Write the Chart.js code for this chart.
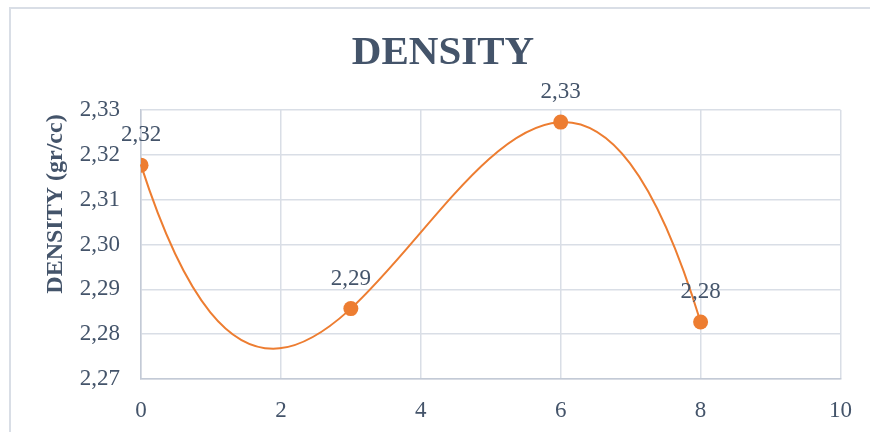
<!DOCTYPE html>
<html>
<head>
<meta charset="utf-8">
<title>Density</title>
<script src="https://cdn.jsdelivr.net/npm/chart.js@4/dist/chart.umd.min.js"></script>
<style>
  html, body { margin: 0; padding: 0; background: #ffffff; }
  #wrap { position: relative; width: 870px; height: 432px; }
</style>
</head>
<body>
<div id="wrap"><canvas id="chart" width="870" height="432"></canvas></div>
<script>
// Measured samples: curing time vs density
const timeValues = [0, 3, 6, 8];
const densityValues = [2.3177, 2.2857, 2.3273, 2.2827];
const xTicks = [0, 2, 4, 6, 8, 10];
const yTicks = [2.27, 2.28, 2.29, 2.30, 2.31, 2.32, 2.33];
const chartTitle = 'DENSITY';
const yAxisTitle = 'DENSITY (gr/cc)';

const TEXT = '#44546A';
const ORANGE = '#ED7D31';
const GRID = '#D9DEE6';
const AXIS = '#C3CAD6';
const SERIF = '"Liberation Serif", "Times New Roman", serif';

const fmt = v => Number(v).toFixed(2).replace('.', ',');

// Least-squares polynomial (order 3) trendline coefficients
function polyfit(xs, ys, order) {
  const n = order + 1;
  const A = [];
  for (let r = 0; r < n; r++) {
    const row = [];
    for (let c = 0; c < n; c++) {
      let s = 0;
      for (let i = 0; i < xs.length; i++) s += Math.pow(xs[i], r + c);
      row.push(s);
    }
    let b = 0;
    for (let i = 0; i < xs.length; i++) b += ys[i] * Math.pow(xs[i], r);
    row.push(b);
    A.push(row);
  }
  for (let i = 0; i < n; i++) {
    let p = i;
    for (let k = i + 1; k < n; k++) if (Math.abs(A[k][i]) > Math.abs(A[p][i])) p = k;
    [A[i], A[p]] = [A[p], A[i]];
    for (let k = i + 1; k < n; k++) {
      const f = A[k][i] / A[i][i];
      for (let c = i; c <= n; c++) A[k][c] -= f * A[i][c];
    }
  }
  const coef = new Array(n).fill(0);
  for (let i = n - 1; i >= 0; i--) {
    let s = A[i][n];
    for (let c = i + 1; c < n; c++) s -= A[i][c] * coef[c];
    coef[i] = s / A[i][i];
  }
  return coef;
}

const coef = polyfit(timeValues, densityValues, 3);
const poly = x => coef.reduce((s, c, i) => s + c * Math.pow(x, i), 0);
const dpoly = x => coef.reduce((s, c, i) => i ? s + i * c * Math.pow(x, i - 1) : s, 0);

// Cubic trendline drawn as one exact Bezier through the axis scales
const trendline = {
  id: 'trendline',
  beforeDatasetsDraw(chart) {
    const {ctx, scales: {x, y}} = chart;
    const x0 = Math.min(...timeValues), x3 = Math.max(...timeValues);
    const h = x3 - x0;
    const p = (a, b) => [x.getPixelForValue(a), y.getPixelForValue(b)];
    const P0 = p(x0, poly(x0));
    const P1 = p(x0 + h / 3, poly(x0) + dpoly(x0) * h / 3);
    const P2 = p(x3 - h / 3, poly(x3) - dpoly(x3) * h / 3);
    const P3 = p(x3, poly(x3));
    ctx.save();
    ctx.strokeStyle = ORANGE;
    ctx.lineWidth = 2;
    ctx.lineCap = 'round';
    ctx.beginPath();
    ctx.moveTo(P0[0], P0[1]);
    ctx.bezierCurveTo(P1[0], P1[1], P2[0], P2[1], P3[0], P3[1]);
    ctx.stroke();
    ctx.restore();
  }
};

// Value labels above each marker
const valueLabels = {
  id: 'valueLabels',
  afterDatasetsDraw(chart) {
    const {ctx} = chart;
    const meta = chart.getDatasetMeta(0);
    ctx.save();
    ctx.font = '23px ' + SERIF;
    ctx.fillStyle = TEXT;
    ctx.textAlign = 'center';
    ctx.textBaseline = 'middle';
    meta.data.forEach((pt, i) => {
      ctx.fillText(fmt(densityValues[i]), pt.x, pt.y - 30);
    });
    ctx.restore();
  }
};

// Outer frame, chart title and vertical axis title
const frame = {
  id: 'frame',
  beforeDraw(chart) {
    const {ctx} = chart;
    ctx.save();
    ctx.strokeStyle = GRID;
    ctx.lineWidth = 2;
    ctx.strokeRect(10, 8, 900, 500);
    ctx.restore();
  },
  afterDraw(chart) {
    const {ctx} = chart;
    ctx.save();
    ctx.fillStyle = TEXT;
    ctx.textAlign = 'center';
    ctx.textBaseline = 'alphabetic';
    ctx.font = 'bold 41px ' + SERIF;
    ctx.fillText(chartTitle, 443, 64);
    ctx.translate(62, 204);
    ctx.rotate(-Math.PI / 2);
    ctx.font = 'bold 24px ' + SERIF;
    ctx.fillText(yAxisTitle, 0, 0);
    ctx.restore();
  }
};

new Chart(document.getElementById('chart'), {
  type: 'scatter',
  data: {
    datasets: [{
      data: timeValues.map((t, i) => ({x: t, y: densityValues[i]})),
      showLine: false,
      pointRadius: 7.5,
      pointHoverRadius: 7.5,
      pointBackgroundColor: ORANGE,
      pointBorderColor: ORANGE,
      pointBorderWidth: 0
    }]
  },
  options: {
    responsive: false,
    animation: false,
    devicePixelRatio: 1,
    layout: { padding: { left: 0, right: 29, top: 110, bottom: 0 } },
    plugins: {
      legend: { display: false },
      tooltip: { enabled: false },
      title: { display: false }
    },
    scales: {
      x: {
        type: 'linear',
        min: xTicks[0],
        max: xTicks[xTicks.length - 1],
        afterBuildTicks: s => { s.ticks = xTicks.map(v => ({value: v})); },
        afterFit: s => { s.height = 53; },
        grid: { color: GRID, lineWidth: 1.5, drawTicks: false },
        border: { color: AXIS, width: 1.5 },
        ticks: {
          color: TEXT,
          padding: 18,
          font: { family: SERIF, size: 23 },
          callback: v => String(v)
        }
      },
      y: {
        type: 'linear',
        min: yTicks[0],
        max: yTicks[yTicks.length - 1],
        afterBuildTicks: s => { s.ticks = yTicks.map(v => ({value: v})); },
        afterFit: s => { s.width = 141; },
        grid: { color: GRID, lineWidth: 1.5, drawTicks: false },
        border: { color: AXIS, width: 1.5 },
        ticks: {
          color: TEXT,
          padding: 21,
          font: { family: SERIF, size: 23 },
          callback: v => fmt(v)
        }
      }
    }
  },
  plugins: [frame, trendline, valueLabels]
});
</script>
</body>
</html>
